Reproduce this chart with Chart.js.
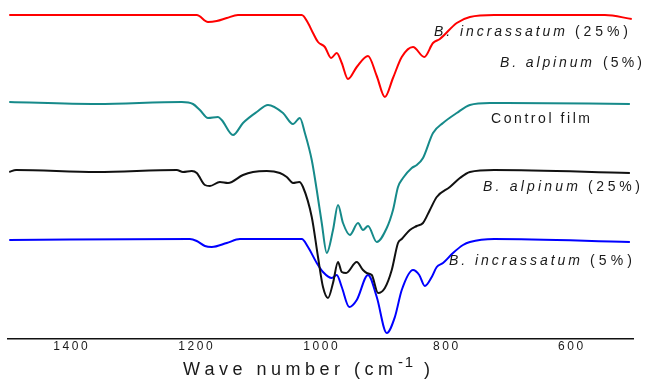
<!DOCTYPE html>
<html>
<head>
<meta charset="utf-8">
<script src="https://cdn.jsdelivr.net/npm/chart.js@4.4.1/dist/chart.umd.min.js"></script>
<style>
	html, body { margin: 0; padding: 0; background: #fff; }
	#wrap { width: 645px; height: 383px; }
</style>
</head>
<body>
<div id="wrap"><canvas id="ftir" width="645" height="383"></canvas></div>
<script>
// wave numbers (cm-1) and offset transmittance
const redWn = [1498, 1358, 1198, 1180, 1166, 1150, 1132, 1030, 1020, 1012, 1004, 993, 983, 974, 966, 956, 942, 924, 910, 897, 884, 870, 852, 834, 820, 809, 782, 761, 722, 545, 502]
const redT = [324, 324, 324, 317, 318, 321, 324, 324, 316, 306, 297, 292, 281, 286, 276, 260, 272, 283, 263, 242, 261, 282, 292, 282, 296, 300, 316, 322, 324, 324, 320]

const tealWn = [1498, 1358, 1222, 1204, 1193, 1180, 1164, 1158, 1140, 1124, 1102, 1084, 1060, 1044, 1033, 1025, 1014, 1006, 998, 990, 980, 972, 964, 953, 940, 932, 924, 910, 894, 884, 876, 868, 854, 846, 836, 820, 804, 782, 761, 729, 703, 505]
const tealT = [237, 235, 237, 235, 229, 221, 222, 219, 204, 216, 227, 234, 226, 215, 221, 206, 179, 149, 116, 86, 109, 134, 116, 104, 116, 109, 113, 97, 111, 129, 152, 161, 171, 174, 181, 206, 216, 226, 234, 236, 236, 235]

const blackWn = [1498, 1487, 1358, 1230, 1220, 1206, 1198, 1185, 1177, 1161, 1148, 1124, 1108, 1086, 1065, 1054, 1044, 1034, 1028, 1014, 1004, 996, 988, 980, 972, 966, 959, 942, 932, 926, 918, 908, 897, 886, 876, 870, 857, 846, 836, 825, 814, 793, 777, 761, 722, 505]
const blackT = [167, 169, 167, 169, 167, 168, 166, 154, 153, 157, 156, 164, 167, 168, 166, 162, 156, 157, 152, 122, 82, 52, 41, 56, 77, 67, 66, 77, 69, 66, 64, 46, 51, 69, 96, 100, 109, 113, 116, 129, 142, 152, 161, 167, 169, 166]

const blueWn = [1498, 1209, 1198, 1185, 1174, 1150, 1129, 1030, 1020, 1006, 996, 982, 974, 966, 954, 942, 924, 910, 894, 881, 870, 852, 842, 833, 822, 814, 804, 788, 772, 761, 722, 505]
const blueT = [99, 100, 98, 93, 92, 96, 100, 100, 92, 76, 67, 61, 64, 52, 32, 39, 64, 42, 6, 22, 49, 69, 64, 53, 62, 72, 76, 86, 94, 97, 100, 97]

const xTicks = [1400, 1200, 1000, 800, 600]

const toPoints = (wn, t) => wn.map((x, i) => ({ x: x, y: t[i] }))

const series = (label, color, wn, t) => {
	return {
		label: label,
		data: toPoints(wn, t),
		borderColor: color,
		borderWidth: 2,
		pointRadius: 0,
		fill: false,
		cubicInterpolationMode: 'monotone'
	}
}

// draw text char by char so the wide letter spacing of the original fits
const spaced = (ctx, text, x0, x1, y, font) => {
	ctx.font = font
	const widths = [...text].map(ch => ctx.measureText(ch).width)
	const plain = widths.reduce((a, b) => a + b, 0)
	const gap = text.length > 1 ? (x1 - x0 - plain) / (text.length - 1) : 0
	let x = x0
	;[...text].forEach((ch, i) => {
		ctx.fillText(ch, x, y)
		x += widths[i] + gap
	})
}

const centred = (ctx, text, cx, y, font, gap) => {
	ctx.font = font
	const widths = [...text].map(ch => ctx.measureText(ch).width)
	const total = widths.reduce((a, b) => a + b, 0) + gap * (text.length - 1)
	let x = cx - total / 2
	;[...text].forEach((ch, i) => {
		ctx.fillText(ch, x, y)
		x += widths[i] + gap
	})
}

const SANS = '"Liberation Sans", Arial, sans-serif'

const labels = [
	{ name: 'B. incrassatum', pct: '(25%)', x0: 434, x1: 565, p0: 575, p1: 628, y: 32 },
	{ name: 'B. alpinum', pct: '(5%)', x0: 500, x1: 592, p0: 603, p1: 642, y: 63 },
	{ name: 'Control film', pct: '', x0: 491, x1: 590, y: 119, upright: true },
	{ name: 'B. alpinum', pct: '(25%)', x0: 483, x1: 578, p0: 588, p1: 640, y: 187 },
	{ name: 'B. incrassatum', pct: '(5%)', x0: 449, x1: 580, p0: 590, p1: 632, y: 261 }
]

const textPlugin = {
	id: 'textPlugin',
	afterDraw(chart) {
		const ctx = chart.ctx
		const xs = chart.scales.x
		ctx.save()
		ctx.fillStyle = '#1a1a1a'
		ctx.textAlign = 'left'
		ctx.textBaseline = 'middle'
		xTicks.forEach(v => {
			centred(ctx, String(v), xs.getPixelForValue(v), 347, '12px ' + SANS, 2.6)
		})
		labels.forEach(l => {
			const f = (l.upright ? '' : 'italic ') + '14px ' + SANS
			spaced(ctx, l.name, l.x0, l.x1, l.y, f)
			if (l.pct) spaced(ctx, l.pct, l.p0, l.p1, l.y, '14px ' + SANS)
		})
		ctx.textBaseline = 'alphabetic'
		spaced(ctx, 'Wave number (cm', 183, 393, 375, '18px ' + SANS)
		spaced(ctx, '-1', 398, 413, 367, '15px ' + SANS)
		spaced(ctx, ')', 424, 424, 375, '18px ' + SANS)
		ctx.restore()
	}
}

// CHART //
const chart = new Chart('ftir', {
	type: 'line',
	data: {
		datasets: [
			series('B. incrassatum (25%)', '#ff0000', redWn, redT),
			series('Control film', '#168a8a', tealWn, tealT),
			series('B. alpinum (25%)', '#111111', blackWn, blackT),
			series('B. incrassatum (5%)', '#0000ff', blueWn, blueT)
		]
	},
	options: {
		responsive: false,
		animation: false,
		layout: { padding: { left: 8, right: 12, top: 4, bottom: 0 } },
		scales: {
			x: {
				type: 'linear',
				reverse: true,
				min: 500,
				max: 1500,
				grid: { display: false },
				border: { display: true, color: '#111', width: 1.5 },
				ticks: { display: false },
				afterFit: function (scale) { scale.height = 44 }
			},
			y: {
				display: false,
				min: 0,
				max: 335
			}
		},
		plugins: {
			legend: { display: false },
			tooltip: { enabled: false },
			title: { display: false }
		}
	},
	plugins: [textPlugin]
})
</script>
</body>
</html>
